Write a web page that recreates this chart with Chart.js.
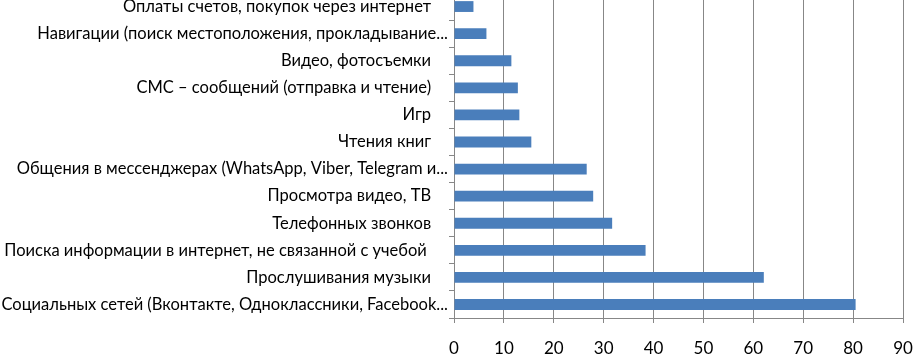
<!DOCTYPE html>
<html><head><meta charset="utf-8">
<script src="https://cdn.jsdelivr.net/npm/chart.js@4/dist/chart.umd.min.js"></script>
<style>
html,body{margin:0;padding:0;background:#fff;overflow:hidden;width:914px;height:356px}
#wrap{position:absolute;left:0;top:-8px;width:914px;height:363px}
</style></head><body><div id="wrap"><canvas id="c"></canvas></div>
<script>
const categories = [
  "Оплаты счетов, покупок через интернет    ",
  "Навигации (поиск местоположения, прокладывание...",
  "Видео, фотосъемки    ",
  "СМС – сообщений (отправка и чтение)    ",
  "Игр    ",
  "Чтения книг    ",
  "Общения в мессенджерах (WhatsApp, Viber, Telegram и...",
  "Просмотра видео, ТВ    ",
  "Телефонных звонков    ",
  "Поиска информации в интернет, не связанной с учебой     ",
  "Прослушивания музыки    ",
  "Социальных сетей (Вконтакте, Одноклассники, Facebook..."
];
const values = [3.9, 6.5, 11.5, 12.8, 13.1, 15.5, 26.6, 27.9, 31.7, 38.4, 62.1, 80.5];
const xTicks = [0, 10, 20, 30, 40, 50, 60, 70, 80, 90];

const FAMILY = "Lato";
function fitSize(text, target) {
  const ctx = document.createElement('canvas').getContext('2d');
  ctx.font = '100px ' + FAMILY;
  return 100 * target / ctx.measureText(text).width;
}
const ySize = fitSize("Поиска информации в интернет, не связанной с учебой", 423);
const GRID = '#878787';

new Chart(document.getElementById('c'), {
  type: 'bar',
  data: {
    labels: categories,
    datasets: [{
      data: values,
      backgroundColor: '#4A7EBB',
      borderWidth: 0,
      categoryPercentage: 1,
      barPercentage: 0.4
    }]
  },
  options: {
    indexAxis: 'y',
    responsive: true,
    maintainAspectRatio: false,
    animation: false,
    layout: { padding: { top: 1, right: 11, left: 0, bottom: 0 } },
    plugins: { legend: { display: false }, tooltip: { enabled: false } },
    scales: {
      x: {
        min: xTicks[0], max: xTicks[xTicks.length - 1],
        afterBuildTicks: s => { s.ticks = xTicks.map(v => ({ value: v })); },
        afterFit: s => { s.height = 37; s.paddingLeft = 0; s.paddingRight = 0; },
        grid: { color: GRID, lineWidth: 1, tickLength: 5, drawTicks: true },
        border: { color: GRID, width: 1 },
        ticks: { color: '#000', font: { family: FAMILY, size: 17 }, padding: 15, maxRotation: 0 }
      },
      y: {
        afterFit: s => { s.width = 454; s.paddingTop = 0; s.paddingBottom = 0; },
        grid: { drawOnChartArea: false, offset: true, color: GRID, tickLength: 5 },
        border: { color: GRID, width: 1 },
        ticks: { color: '#000', font: { family: FAMILY, size: ySize }, padding: 1, autoSkip: false }
      }
    }
  }
});
</script></body></html>
